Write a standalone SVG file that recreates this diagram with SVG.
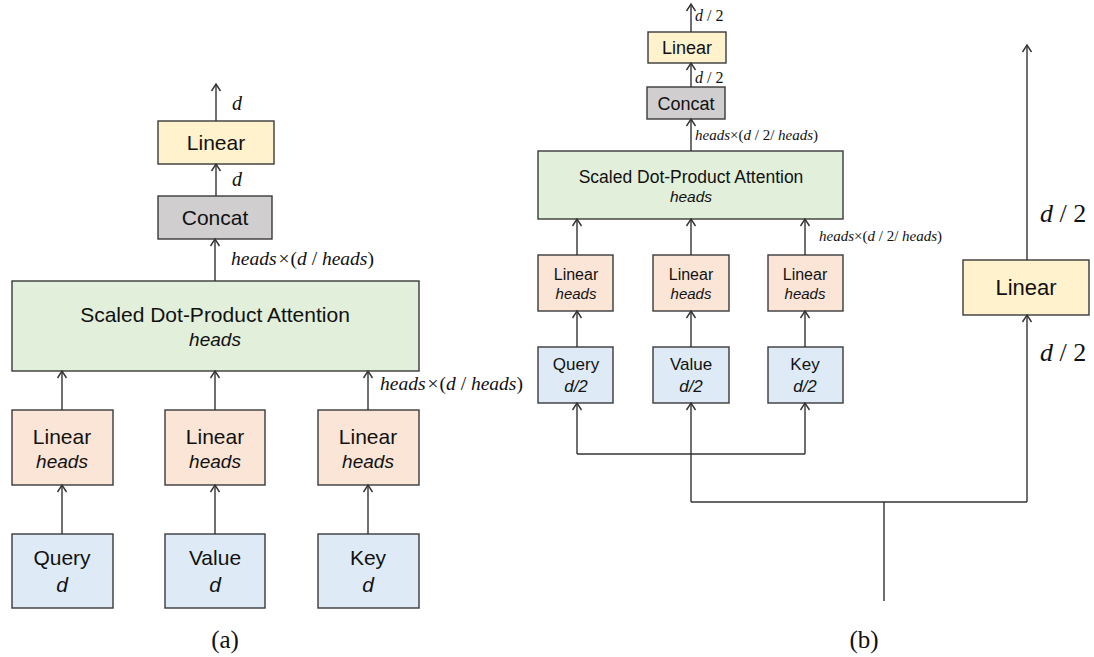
<svg xmlns="http://www.w3.org/2000/svg" width="1094" height="657" viewBox="0 0 1094 657">
<style>
  .box { stroke: #3a3a3a; stroke-width: 1.4; }
  .yellow { fill: #fff2cc; }
  .gray { fill: #d0cece; }
  .green { fill: #e2efda; }
  .peach { fill: #fbe5d6; }
  .blue { fill: #deebf7; }
  .t { font-family: "Liberation Sans", Arial, sans-serif; fill: #111; text-anchor: middle; }
  .i { font-style: italic; }
  .m { font-family: "Liberation Serif", "Times New Roman", serif; fill: #111; }
  .mi { font-style: italic; }
  .cap { font-family: "Liberation Serif", "Times New Roman", serif; fill: #111; text-anchor: middle; font-size: 25px; }
  .ln { stroke: #333; stroke-width: 1.4; fill: none; }
  .ar { stroke: #333; stroke-width: 1.4; fill: none; marker-end: url(#ah); }
</style>
<defs>
  <marker id="ah" markerUnits="userSpaceOnUse" markerWidth="12" markerHeight="12" refX="7" refY="5" orient="auto" overflow="visible">
    <path d="M0,0.5 L7,5 L0,9.5" fill="none" stroke="#333" stroke-width="1.4"/>
  </marker>
</defs>
<rect width="1094" height="657" fill="#ffffff"/>

<!-- ===== (a) ===== -->
<g id="a-linear-out">
  <rect class="box yellow" x="158" y="121" width="116" height="43"/>
  <text class="t" x="216" y="150" font-size="21">Linear</text>
</g>
<g id="a-concat">
  <rect class="box gray" x="158" y="196" width="114" height="43"/>
  <text class="t" x="215" y="225" font-size="21">Concat</text>
</g>
<g id="a-attention">
  <rect class="box green" x="12" y="281" width="407" height="90"/>
  <text class="t" x="215" y="322" font-size="21">Scaled Dot-Product Attention</text>
  <text class="t i" x="215" y="346" font-size="19">heads</text>
</g>
<g id="a-linear-q">
  <rect class="box peach" x="12" y="410" width="101" height="75"/>
  <text class="t" x="62" y="444" font-size="21">Linear</text>
  <text class="t i" x="62" y="468" font-size="19">heads</text>
</g>
<g id="a-linear-v">
  <rect class="box peach" x="165" y="410" width="100" height="75"/>
  <text class="t" x="215" y="444" font-size="21">Linear</text>
  <text class="t i" x="215" y="468" font-size="19">heads</text>
</g>
<g id="a-linear-k">
  <rect class="box peach" x="318" y="410" width="101" height="75"/>
  <text class="t" x="368" y="444" font-size="21">Linear</text>
  <text class="t i" x="368" y="468" font-size="19">heads</text>
</g>
<g id="a-query">
  <rect class="box blue" x="12" y="534" width="101" height="74"/>
  <text class="t" x="62" y="565" font-size="21">Query</text>
  <text class="t i" x="62" y="592" font-size="21">d</text>
</g>
<g id="a-value">
  <rect class="box blue" x="165" y="534" width="100" height="74"/>
  <text class="t" x="215" y="565" font-size="21">Value</text>
  <text class="t i" x="215" y="592" font-size="21">d</text>
</g>
<g id="a-key">
  <rect class="box blue" x="318" y="534" width="101" height="74"/>
  <text class="t" x="368" y="565" font-size="21">Key</text>
  <text class="t i" x="368" y="592" font-size="21">d</text>
</g>

<!-- ===== (b) ===== -->
<g id="b-linear-out">
  <rect class="box yellow" x="648" y="32" width="78" height="31"/>
  <text class="t" x="687" y="54" font-size="18">Linear</text>
</g>
<g id="b-concat">
  <rect class="box gray" x="647" y="87" width="78" height="32"/>
  <text class="t" x="686" y="110" font-size="18">Concat</text>
</g>
<g id="b-attention">
  <rect class="box green" x="538" y="151" width="305" height="68"/>
  <text class="t" x="691" y="183" font-size="17.5">Scaled Dot-Product Attention</text>
  <text class="t i" x="691" y="202" font-size="15.5">heads</text>
</g>
<g id="b-linear-q">
  <rect class="box peach" x="538" y="255" width="75" height="56"/>
  <text class="t" x="576" y="280" font-size="16">Linear</text>
  <text class="t i" x="576" y="299" font-size="15">heads</text>
</g>
<g id="b-linear-v">
  <rect class="box peach" x="653" y="255" width="76" height="56"/>
  <text class="t" x="691" y="280" font-size="16">Linear</text>
  <text class="t i" x="691" y="299" font-size="15">heads</text>
</g>
<g id="b-linear-k">
  <rect class="box peach" x="768" y="255" width="75" height="56"/>
  <text class="t" x="805" y="280" font-size="16">Linear</text>
  <text class="t i" x="805" y="299" font-size="15">heads</text>
</g>
<g id="b-query">
  <rect class="box blue" x="538" y="347" width="75" height="56"/>
  <text class="t" x="576" y="370" font-size="17">Query</text>
  <text class="t i" x="576" y="392" font-size="17">d/2</text>
</g>
<g id="b-value">
  <rect class="box blue" x="653" y="347" width="76" height="56"/>
  <text class="t" x="691" y="370" font-size="17">Value</text>
  <text class="t i" x="691" y="392" font-size="17">d/2</text>
</g>
<g id="b-key">
  <rect class="box blue" x="768" y="347" width="75" height="56"/>
  <text class="t" x="805" y="370" font-size="17">Key</text>
  <text class="t i" x="805" y="392" font-size="17">d/2</text>
</g>
<g id="b-linear-side">
  <rect class="box yellow" x="963" y="260" width="126" height="55"/>
  <text class="t" x="1026" y="295" font-size="22">Linear</text>
</g>

<!-- ===== connectors ===== -->
<g id="connectors">
  <!-- (a) -->
  <line class="ar" x1="216" y1="121" x2="216" y2="84"/>
  <line class="ar" x1="216" y1="196" x2="216" y2="164"/>
  <line class="ar" x1="215" y1="281" x2="215" y2="239"/>
  <line class="ar" x1="62" y1="410" x2="62" y2="371"/>
  <line class="ar" x1="215" y1="410" x2="215" y2="371"/>
  <line class="ar" x1="368" y1="410" x2="368" y2="371"/>
  <line class="ar" x1="62" y1="534" x2="62" y2="485"/>
  <line class="ar" x1="215" y1="534" x2="215" y2="485"/>
  <line class="ar" x1="368" y1="534" x2="368" y2="485"/>
  <!-- (b) -->
  <line class="ar" x1="691" y1="32" x2="691" y2="4"/>
  <line class="ar" x1="691" y1="87" x2="691" y2="63"/>
  <line class="ar" x1="691" y1="151" x2="691" y2="119"/>
  <line class="ar" x1="577" y1="255" x2="577" y2="219"/>
  <line class="ar" x1="691" y1="255" x2="691" y2="219"/>
  <line class="ar" x1="805" y1="255" x2="805" y2="219"/>
  <line class="ar" x1="577" y1="347" x2="577" y2="311"/>
  <line class="ar" x1="691" y1="347" x2="691" y2="311"/>
  <line class="ar" x1="805" y1="347" x2="805" y2="311"/>
  <polyline class="ln" points="577,454 805,454"/>
  <line class="ar" x1="577" y1="454" x2="577" y2="403"/>
  <line class="ar" x1="805" y1="454" x2="805" y2="403"/>
  <line class="ar" x1="691" y1="502" x2="691" y2="403"/>
  <polyline class="ln" points="691,502 1027,502"/>
  <line class="ln" x1="884" y1="502" x2="884" y2="601"/>
  <line class="ar" x1="1027" y1="502" x2="1027" y2="315"/>
  <line class="ar" x1="1027" y1="260" x2="1027" y2="45"/>
</g>

<!-- ===== labels ===== -->
<g id="labels">
  <text class="m mi" x="232" y="110" font-size="20">d</text>
  <text class="m mi" x="232" y="186" font-size="20">d</text>
  <text class="m" x="231" y="265" font-size="19.5"><tspan class="mi">heads</tspan><tspan dx="2">×</tspan><tspan dx="1">(</tspan><tspan class="mi">d</tspan> / <tspan class="mi">heads</tspan>)</text>
  <text class="m" x="380" y="390" font-size="19.5"><tspan class="mi">heads</tspan><tspan dx="2">×</tspan><tspan dx="1">(</tspan><tspan class="mi">d</tspan> / <tspan class="mi">heads</tspan>)</text>

  <text class="m" x="695" y="21" font-size="16"><tspan class="mi">d</tspan> / 2</text>
  <text class="m" x="695" y="83" font-size="16"><tspan class="mi">d</tspan> / 2</text>
  <text class="m" x="695" y="140" font-size="15"><tspan class="mi">heads</tspan>×(<tspan class="mi">d</tspan> / 2/ <tspan class="mi">heads</tspan>)</text>
  <text class="m" x="819" y="241" font-size="15"><tspan class="mi">heads</tspan>×(<tspan class="mi">d</tspan> / 2/ <tspan class="mi">heads</tspan>)</text>
  <text class="m" x="1040" y="222" font-size="26"><tspan class="mi">d</tspan> / 2</text>
  <text class="m" x="1040" y="361" font-size="26"><tspan class="mi">d</tspan> / 2</text>

  <text class="cap" x="225" y="648">(a)</text>
  <text class="cap" x="864" y="648">(b)</text>
</g>
</svg>
